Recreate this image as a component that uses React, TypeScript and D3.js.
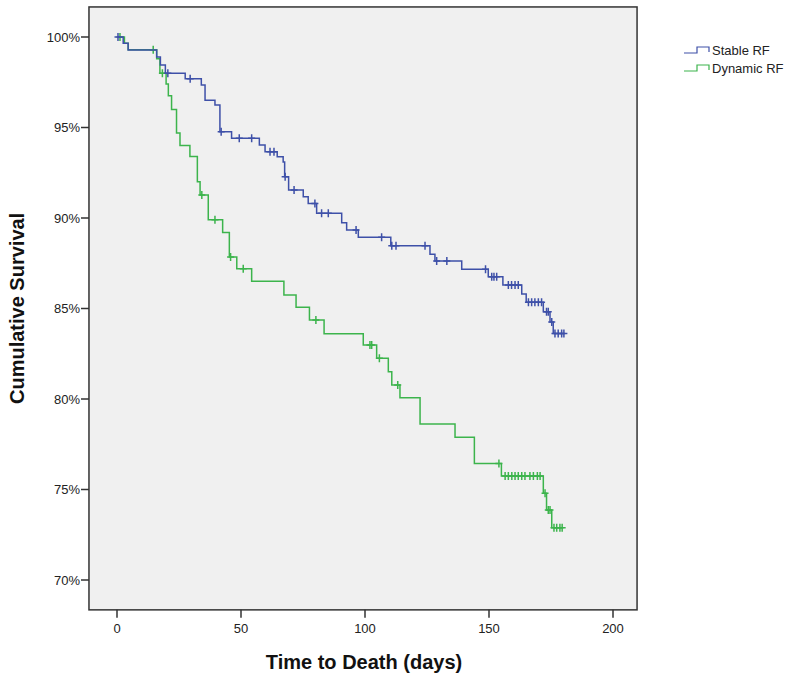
import React, { useEffect } from "react";
import * as d3 from "d3";

// Stable RF: event times (days) and survival (%) after each event
const stableTimes = [0, 2.5, 4.5, 16, 17.5, 19.5, 27.5, 34, 35.5, 39.5, 41.5, 46.2, 57.4, 59.7, 64.6, 67, 67.6, 69.2, 75.1, 77.1, 80.5, 90.6, 92.6, 97.3, 110.4, 126.2, 128.2, 139, 149.7, 155.6, 163.2, 165.0, 171.9, 174.6, 175.9];
const stableSurv = [100, 99.65, 99.28, 98.9, 98.45, 98.0, 97.7, 97.35, 96.5, 96.24, 94.77, 94.4, 94.03, 93.66, 93.39, 93.1, 92.28, 91.55, 91.18, 90.8, 90.26, 89.74, 89.34, 88.93, 88.47, 88.0, 87.62, 87.17, 86.76, 86.3, 85.8, 85.35, 84.82, 84.25, 83.62];
const stableCensored = [0.4, 20.5, 29.5, 42, 49.3, 54.3, 61.7, 63.3, 67.8, 71.4, 79.8, 82.5, 85.2, 96.4, 106.7, 110.8, 112.5, 124.2, 128.9, 133, 148.6, 151.1, 152, 153.1, 157.8, 159.1, 160.5, 161.8, 165.9, 167.2, 168.5, 169.9, 171.2, 173.2, 173.9, 175.3, 176.6, 177.9, 179.3, 180.2];

// Dynamic RF
const dynamicTimes = [0, 3.0, 4.5, 16, 17.3, 19.8, 20.7, 22, 24, 25.4, 29.4, 32.4, 33.5, 36.8, 42.6, 45.3, 48.3, 54.3, 67.3, 72.2, 77.6, 83.5, 99.3, 104.7, 109.4, 110.8, 114.1, 122.2, 136.3, 144.1, 155.0, 171.9, 173.2, 175.3];
const dynamicSurv = [100, 99.65, 99.3, 98.8, 98.0, 97.4, 96.75, 96.0, 94.7, 94.0, 93.4, 92.0, 91.27, 89.9, 89.2, 87.85, 87.2, 86.5, 85.75, 85.07, 84.36, 83.6, 82.98, 82.25, 81.5, 80.77, 80.07, 78.62, 77.88, 76.44, 75.75, 74.79, 73.87, 72.88];
const dynamicCensored = [1.2, 14.6, 18.3, 34.2, 39.5, 45.8, 50.9, 80.2, 102, 102.7, 105.8, 113.2, 154.0, 156.5, 157.8, 159.2, 160.5, 161.8, 163.2, 164.5, 166.5, 167.9, 169.5, 170.6, 172.6, 173.9, 174.6, 176.2, 177.3, 178.6, 179.5];

const seriesNames = ["Stable RF", "Dynamic RF"];
const seriesColors = ["#3e50a8", "#3cb44c"];

const xTicks = [0, 50, 100, 150, 200];
const yTicks = [70, 75, 80, 85, 90, 95, 100];

const W = 800;
const H = 683;

export default function App() {
  useEffect(() => {
    document.body.style.margin = "0";
  }, []);

  const x = d3.scaleLinear().domain([0, 200]).range([117, 613]);
  const y = d3.scaleLinear().domain([70, 100]).range([580, 37]);

  const left = x(-11.3);
  const right = x(209.7);
  const top = y(101.66);
  const bottom = y(68.35);

  const line = d3
    .line<[number, number]>()
    .x((d) => x(d[0]))
    .y((d) => y(d[1]))
    .curve(d3.curveStepAfter);

  const series = [
    { times: stableTimes, surv: stableSurv, cens: stableCensored },
    { times: dynamicTimes, surv: dynamicSurv, cens: dynamicCensored },
  ];

  const survAt = (times: number[], surv: number[], t: number) => {
    let v = surv[0];
    for (let i = 0; i < times.length; i++) if (times[i] <= t) v = surv[i];
    return v;
  };

  const font = "'Liberation Sans', Arial, sans-serif";

  return (
    <svg width={W} height={H} style={{ display: "block", background: "#fff" }} fontFamily={font}>
      <rect x={left} y={top} width={right - left} height={bottom - top} fill="#f0f0f0" />
      {[1, 0].map((si) => {
        const s = series[si];
        const pts: [number, number][] = s.times.map((t, i) => [t, s.surv[i]]);
        const lastT = Math.max(...s.cens, s.times[s.times.length - 1]);
        pts.push([lastT, s.surv[s.surv.length - 1]]);
        return (
          <g key={si}>
            <path d={line(pts) || ""} fill="none" stroke={seriesColors[si]} strokeWidth={1.5} />
            {s.cens.map((t, j) => {
              const cx = x(t);
              const cy = y(survAt(s.times, s.surv, t));
              return (
                <path
                  key={j}
                  d={`M${cx - 3.5},${cy}H${cx + 3.5}M${cx},${cy - 4}V${cy + 4}`}
                  stroke={seriesColors[si]}
                  strokeWidth={1.5}
                  fill="none"
                />
              );
            })}
          </g>
        );
      })}
      <rect x={left} y={top} width={right - left} height={bottom - top} fill="none" stroke="#333" strokeWidth={1.5} />
      {yTicks.map((t) => (
        <g key={t}>
          <line x1={left - 8} x2={left} y1={y(t)} y2={y(t)} stroke="#333" strokeWidth={1.5} />
          <text x={left - 9} y={y(t)} dy="0.35em" textAnchor="end" fontSize={13} fill="#222">
            {t}%
          </text>
        </g>
      ))}
      {xTicks.map((t) => (
        <g key={t}>
          <line x1={x(t)} x2={x(t)} y1={bottom} y2={bottom + 8} stroke="#333" strokeWidth={1.5} />
          <text x={x(t)} y={bottom + 23} textAnchor="middle" fontSize={13} fill="#222">
            {t}
          </text>
        </g>
      ))}
      <text x={364} y={669} textAnchor="middle" fontSize={20} fontWeight="bold" fill="#111">
        Time to Death (days)
      </text>
      <text
        transform={`translate(24,${(top + bottom) / 2}) rotate(-90)`}
        textAnchor="middle"
        fontSize={20}
        fontWeight="bold"
        fill="#111"
      >
        Cumulative Survival
      </text>
      {seriesNames.map((n, i) => {
        const ly = 50 + i * 18;
        return (
          <g key={n}>
            <path
              d={`M684,${ly + 3}H697V${ly - 3}H709V${ly + 2}`}
              fill="none"
              stroke={seriesColors[i]}
              strokeWidth={1.2}
            />
            <text x={712} y={ly} dy="0.35em" fontSize={13} fill="#222">
              {n}
            </text>
          </g>
        );
      })}
    </svg>
  );
}
